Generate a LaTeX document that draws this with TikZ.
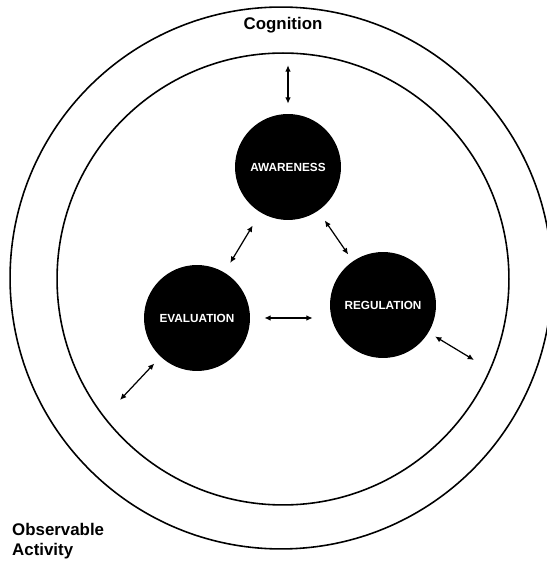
\documentclass[tikz,border=0pt]{standalone}
\usepackage{fontspec}
\setmainfont{Liberation Sans}
\usetikzlibrary{arrows.meta}

\begin{document}
\begin{tikzpicture}[x=0.02cm, y=0.02cm,
	ring/.style={draw, circle, line width=0.9pt, inner sep=0pt},
	blob/.style={circle, fill=black, inner sep=0pt, minimum size=2.12cm, text=white, font=\bfseries\fontsize{6.7}{7}\selectfont},
	link/.style={<->, >={Latex[length=3.6pt,width=3.2pt]}, line width=0.7pt},
	lbl/.style={font=\bfseries\fontsize{9.6}{11.5}\selectfont}]
%	\draw[help lines] (0,0)grid(547,561);
	\useasboundingbox (0,0) rectangle (547,561);

	%rings
	\node[ring, minimum size=10.84cm] (outer) at (281,283) {};
	\node[ring, minimum size=9.04cm] (inner) at (283,282) {};

	\node[lbl] (cog) at (283,536) {Cognition};
	\node[lbl, anchor=west, align=left] (obs) at (6,20) {Observable\\Activity};

	%the three
	\node[blob] (aw) at (288,394) {AWARENESS};
	\node[blob] (ev) at (197,243) {EVALUATION};
	\node[blob] (rg) at (383,256) {REGULATION};

	\coordinate (evo) at (120,161);
	\coordinate (rgo) at (474,201);

	%arrows
	\draw[link, shorten <=0.2cm, shorten >=0.26cm] (aw.north) to (aw.north |- inner.north);
	\draw[link, shorten <=0.3cm, shorten >=0.22cm] (aw) to (ev);
	\draw[link, shorten <=0.23cm, shorten >=0.16cm] (aw) to (rg);
	\draw[link, shorten <=0.28cm, shorten >=0.34cm] (ev.east) to (ev.east -| rg.west);
	\draw[link, shorten <=0.15cm] (rg) to (rgo);
	\draw[link, shorten <=0.18cm] (ev) to (evo);

\end{tikzpicture}
\end{document}
